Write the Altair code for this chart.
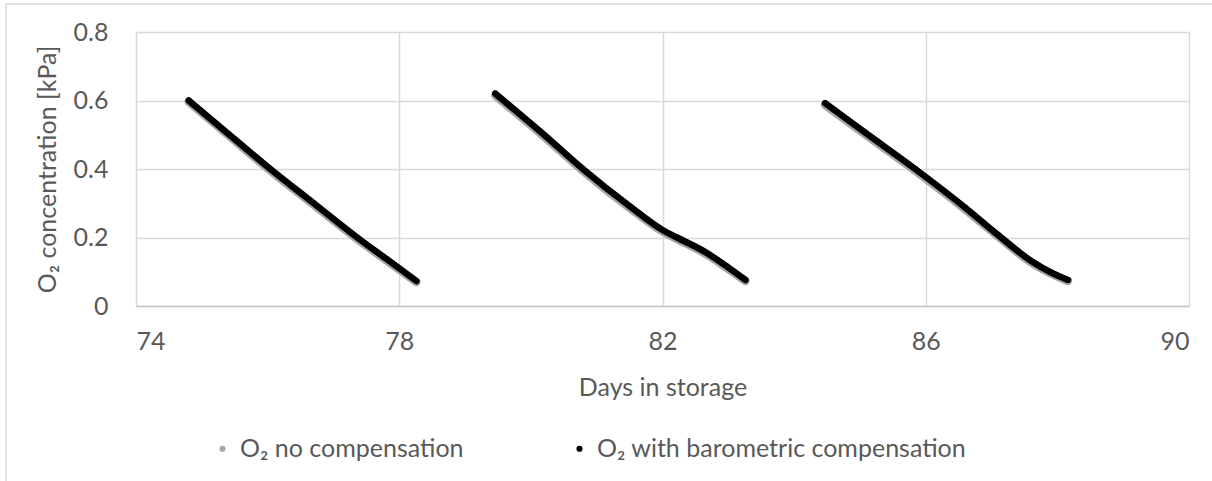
import altair as alt
import pandas as pd

# Storage-cycle readings: days in storage and O2 concentration (kPa)
cycle_ids = [1, 1, 1, 1, 1, 1, 1,
             2, 2, 2, 2, 2, 2, 2, 2, 2,
             3, 3, 3, 3, 3, 3, 3, 3]
days = [74.80, 75.40, 76.04, 76.70, 77.36, 77.80, 78.26,
        79.46, 80.20, 80.79, 81.51, 82.00, 82.22, 82.68, 82.98, 83.26,
        84.47, 85.08, 85.84, 86.60, 87.10, 87.62, 87.90, 88.16]
o2_compensated = [0.600, 0.503, 0.400, 0.300, 0.200, 0.138, 0.073,
                  0.620, 0.500, 0.400, 0.290, 0.222, 0.200, 0.154, 0.115, 0.076,
                  0.592, 0.506, 0.400, 0.287, 0.207, 0.129, 0.098, 0.076]
o2_uncompensated = [0.596, 0.499, 0.396, 0.296, 0.196, 0.134, 0.070,
                    0.615, 0.495, 0.395, 0.285, 0.218, 0.196, 0.150, 0.111, 0.073,
                    0.587, 0.501, 0.395, 0.282, 0.203, 0.125, 0.095, 0.073]

series_names = ["O\u2082 no compensation", "O\u2082 with barometric compensation"]
series_colors = ["#a6a6a6", "#000000"]

x_ticks = [74, 78, 82, 86, 90]
y_ticks = [0, 0.2, 0.4, 0.6, 0.8]

rows = []
for c, d, v in zip(cycle_ids, days, o2_uncompensated):
    rows.append({"cycle": c, "day": d, "o2": v, "series": series_names[0]})
for c, d, v in zip(cycle_ids, days, o2_compensated):
    rows.append({"cycle": c, "day": d, "o2": v, "series": series_names[1]})
df = pd.DataFrame(rows)

FONT = "Lato"
TXT = "#595959"
FS = 25

x_enc = alt.X(
    "day:Q",
    scale=alt.Scale(domain=[74, 90], nice=False, zero=False),
    axis=alt.Axis(values=x_ticks, format="d", title="Days in storage", grid=True,
                  ticks=False, labelPadding=23, titlePadding=21),
)
y_enc = alt.Y(
    "o2:Q",
    scale=alt.Scale(domain=[0, 0.8], nice=False),
    axis=alt.Axis(values=y_ticks, format=".1~f", title="O\u2082 concentration [kPa]",
                  grid=True, ticks=False, domain=False, labelPadding=28,
                  titlePadding=13),
)

base = alt.Chart(df)

points = base.mark_circle(size=38, opacity=1).encode(
    x=x_enc,
    y=y_enc,
    color=alt.Color(
        "series:N",
        scale=alt.Scale(domain=series_names, range=series_colors),
        legend=alt.Legend(
            title=None, orient="none", direction="horizontal",
            legendX=74, legendY=404, symbolType="circle", symbolSize=38,
            labelFontSize=FS, labelFont=FONT, labelColor=TXT, labelLimit=0,
            columnPadding=103, labelOffset=5, symbolStrokeWidth=0,
        ),
    ),
)

grey_line = base.transform_filter(
    alt.datum.series == series_names[0]
).mark_line(color=series_colors[0], strokeWidth=8.5, strokeCap="round",
            strokeJoin="round", interpolate="monotone").encode(
    x="day:Q", y="o2:Q", detail="cycle:N"
)

black_line = base.transform_filter(
    alt.datum.series == series_names[1]
).mark_line(color=series_colors[1], strokeWidth=6.5, strokeCap="round",
            strokeJoin="round", interpolate="monotone").encode(
    x="day:Q", y="o2:Q", detail="cycle:N"
)

# outer chart-area frame (top and left edges)
frame_top = alt.Chart(pd.DataFrame({"k": [0]})).mark_rule(
    color="#d9d9d9", strokeWidth=1.5, clip=False
).encode(x=alt.value(-130), x2=alt.value(1090), y=alt.value(-28))
frame_left = alt.Chart(pd.DataFrame({"k": [0]})).mark_rule(
    color="#d9d9d9", strokeWidth=1.5, clip=False
).encode(x=alt.value(-130), y=alt.value(-28), y2=alt.value(460))

chart = alt.layer(frame_top, frame_left, points, grey_line, black_line).properties(
    width=1053,
    height=274,
    autosize=alt.AutoSizeParams(type="none"),
    padding={"left": 136, "top": 32, "right": 23, "bottom": 175},
    background="white",
).configure_axis(
    labelFont=FONT, titleFont=FONT, labelFontSize=FS, titleFontSize=FS,
    labelColor=TXT, titleColor=TXT, titleFontWeight="normal",
    gridColor="#d9d9d9", gridWidth=1.5, domainColor="#c6c6c6", domainWidth=1.5,
).configure_view(stroke=None)

chart.save("out.html", embed_options={"renderer": "svg", "actions": False})
